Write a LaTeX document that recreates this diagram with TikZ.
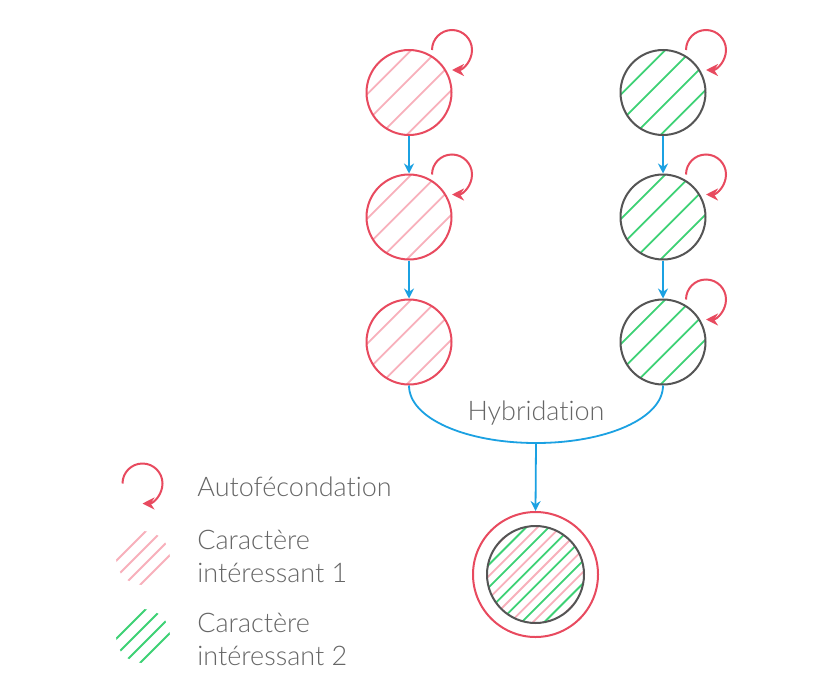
\documentclass[tikz,border=0pt]{standalone}
\usepackage{fontspec}
\setmainfont{Lato Light}[Ligatures=NoCommon]
\usetikzlibrary{arrows.meta}
\definecolor{rouge}{HTML}{E84A5F}
\definecolor{rose}{HTML}{F8B0BB}
\definecolor{vert}{HTML}{3DD175}
\definecolor{gris}{HTML}{555555}
\definecolor{bleu}{HTML}{1BA1E2}
\definecolor{texte}{HTML}{666666}
\tikzset{
        hachure/.style n args={3}{path picture={
                \foreach \k in {-8,...,8}
                        \draw[#1, line width=0.9pt] ([xshift=\k*#2+#3]path picture bounding box.center) ++(-80,-80) -- ++(160,160);}},
        lignee/.style={circle, line width=1pt, minimum size=42.5pt, inner sep=0pt},
        lignee1/.style={lignee, draw=rouge, hachure={rose}{13.4pt}{6.7pt}},
        lignee2/.style={lignee, draw=gris, hachure={vert}{13.4pt}{6.7pt}},
        croisement/.style={-{Stealth[length=5pt,width=5pt]}, draw=bleu, line width=0.9pt},
        autofec/.style={-{Stealth[length=6pt,width=6pt]}, draw=rouge, line width=1pt},
        legende/.style={text=texte, anchor=west, align=left, inner sep=0pt}
}
\begin{document}
\begin{tikzpicture}[x=0.5pt, y=0.5pt, font=\fontsize{13.5}{16.5}\selectfont]
        \fill[white] (0,0) rectangle (840,693);
        \useasboundingbox (0,0) rectangle (840,693);
        \node[lignee1] (a1) at (409,600.5) {};
        \node[lignee1] (a2) at (409,476) {};
        \node[lignee1] (a3) at (409,351) {};
        \node[lignee2] (b1) at (663,600.5) {};
        \node[lignee2] (b2) at (663,476) {};
        \node[lignee2] (b3) at (663,351) {};
        \draw[croisement] (a1.south) -- (a2.north);
        \draw[croisement] (a2.south) -- (a3.north);
        \draw[croisement] (b1.south) -- (b2.north);
        \draw[croisement] (b2.south) -- (b3.north);
        \draw[autofec] ([shift={(43,42.5)}]a1.center) ++(180:20) arc[start angle=180, end angle=-90, radius=20];
        \draw[autofec] ([shift={(43,42.5)}]a2.center) ++(180:20) arc[start angle=180, end angle=-90, radius=20];
        \draw[autofec] ([shift={(43,42.5)}]b1.center) ++(180:20) arc[start angle=180, end angle=-90, radius=20];
        \draw[autofec] ([shift={(43,42.5)}]b2.center) ++(180:20) arc[start angle=180, end angle=-90, radius=20];
        \draw[autofec] ([shift={(43,42.5)}]b3.center) ++(180:20) arc[start angle=180, end angle=-90, radius=20];
        \coordinate (hyb) at (536,250);
        \draw[bleu, line width=0.9pt] (a3.south) .. controls +(0,-33) and +(-70,0) .. (hyb) .. controls +(70,0) and +(0,-33) .. (b3.south);
        \node[text=texte, inner sep=0pt] (hybtxt) at (536,280) {Hybridation};
        \node[circle, draw=rouge, line width=1pt, minimum size=62.5pt, inner sep=0pt] (f1) at (535.5,118.5) {};
        \node[lignee, minimum size=48.5pt, hachure={rose}{11.3pt}{0pt}] (f2) at (f1) {};
        \node[lignee, draw=gris, minimum size=48.5pt, hachure={vert}{11.3pt}{5.65pt}] (f3) at (f1) {};
        \draw[croisement] (hyb) -- (f1.north);
        \coordinate (lgboucle) at (142.5,209.5);
        \draw[autofec] (lgboucle) ++(180:20) arc[start angle=180, end angle=-90, radius=20];
        \node[legende] (lgtxt1) at (197,206) {Autofécondation};
        \node[circle, minimum size=27pt, inner sep=0pt, hachure={rose}{8pt}{4pt}] (lg1) at (143,135) {};
        \node[legende] (lgtxt2) at (197,136.5) {Caractère\\intéressant 1};
        \node[circle, minimum size=27pt, inner sep=0pt, hachure={vert}{8pt}{4pt}] (lg2) at (143,57) {};
        \node[legende] (lgtxt3) at (197,53.5) {Caractère\\intéressant 2};
\end{tikzpicture}
\end{document}
